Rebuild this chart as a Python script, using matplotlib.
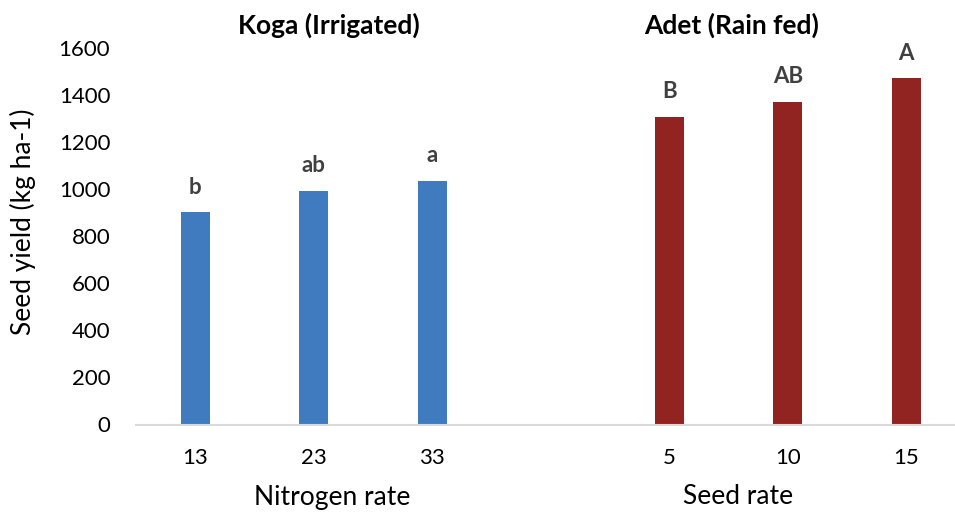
import numpy as np
import matplotlib.pyplot as plt

plt.rcParams['font.family'] = ['Lato', 'DejaVu Sans']

# Seed yield by site
nitrogen_rates = ['13', '23', '33']
koga_yield = [902, 994, 1035]
koga_letters = ['b', 'ab', 'a']

seed_rates = ['5', '10', '15']
adet_yield = [1308, 1371, 1472]
adet_letters = ['B', 'AB', 'A']

blue = '#417BBF'
red = '#912421'
label_col = '#404040'

W, H = 955, 513
fig = plt.figure(figsize=(W / 100, H / 100), dpi=100)
ax = fig.add_axes([136 / W, (H - 424.5) / H, (W - 136) / W, 376.5 / H])

x_koga = np.arange(len(nitrogen_rates))
x_adet = np.arange(len(seed_rates)) + len(nitrogen_rates) + 1
bw = 0.245

ax.bar(x_koga, koga_yield, width=bw, color=blue)
ax.bar(x_adet, adet_yield, width=bw, color=red)

# significance letters above bars
for xs, ys, labs in [(x_koga, koga_yield, koga_letters), (x_adet, adet_yield, adet_letters)]:
    for xi, yi, lab in zip(xs, ys, labs):
        ax.annotate(lab, (xi, yi), xytext=(0, 25), textcoords='offset pixels',
                    ha='center', va='center', fontsize=16, fontweight='bold',
                    color=label_col)

ax.set_xlim(-0.5, -0.5 + (W - 136) / 118.5)
ax.set_ylim(0, 1600)
ax.set_yticks(np.arange(0, 1601, 200))
ax.set_xticks(list(x_koga) + list(x_adet))
ax.set_xticklabels(nitrogen_rates + seed_rates)
ax.tick_params(length=0, labelsize=16, colors='black')
ax.tick_params(axis='x', pad=17)
ax.tick_params(axis='y', pad=18.5)

for s in ['top', 'right', 'left']:
    ax.spines[s].set_visible(False)
ax.spines['bottom'].set_color('#D9D9D9')
ax.spines['bottom'].set_linewidth(1.5)

fig.text(23 / W, 1 - 222 / H, 'Seed yield (kg ha-1)', rotation=90,
         ha='center', va='center', fontsize=19)

# site titles
fig.text(329 / W, 1 - 25 / H, 'Koga (Irrigated)', ha='center', va='center',
         fontsize=19, fontweight='bold', color='black')
fig.text(732 / W, 1 - 25 / H, 'Adet (Rain fed)', ha='center', va='center',
         fontsize=19, fontweight='bold', color='black')

# x-axis titles
fig.text(332 / W, 1 - 497 / H, 'Nitrogen rate', ha='center', va='center', fontsize=19)
fig.text(738.5 / W, 1 - 497 / H, 'Seed rate', ha='center', va='center', fontsize=19)

fig.savefig('out.png', dpi=100)
